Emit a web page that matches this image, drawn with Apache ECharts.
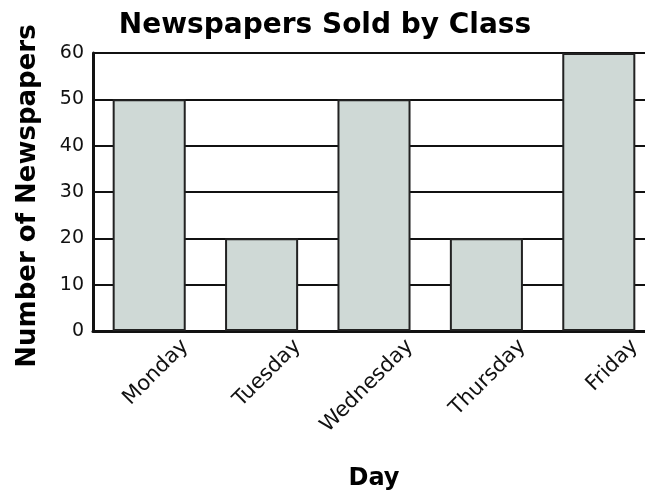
<!DOCTYPE html>
<html>
<head>
<meta charset="utf-8">
<script src="https://cdn.jsdelivr.net/npm/echarts@6/dist/echarts.min.js"></script>
<style>html,body{margin:0;padding:0;background:#fff;overflow:hidden}#c{width:700px;height:491px}</style>
</head>
<body>
<div id="c"></div>
<script>
const categories = ['Monday', 'Tuesday', 'Wednesday', 'Thursday', 'Friday'];
const newspapers = [50, 20, 50, 20, 60];
const yTicks = { min: 0, max: 60, interval: 10 };

const chart = echarts.init(document.getElementById('c'), null, { renderer: 'canvas' });
const font = 'DejaVu Sans';
chart.setOption({
  animation: false,
  backgroundColor: '#fff',
  title: {
    text: 'Newspapers Sold by Class',
    left: 320, top: 7, textAlign: 'center',
    textStyle: { fontFamily: font, fontWeight: 'bold', fontSize: 28, color: '#000' }
  },
  grid: [
    { left: 93, top: 53, width: 562, height: 278, containLabel: false, outerBoundsMode: 'none' },
    { left: 129, top: 53, width: 562, height: 278, containLabel: false, outerBoundsMode: 'none' }
  ],
  xAxis: [
    {
      type: 'category', data: categories, gridIndex: 0,
      name: 'Day', nameLocation: 'middle', nameGap: 136,
      nameTextStyle: { fontFamily: font, fontWeight: 'bold', fontSize: 24, color: '#000' },
      axisLine: { lineStyle: { color: '#111', width: 3 } },
      axisTick: { show: false },
      axisLabel: { show: false }
    },
    {
      type: 'category', data: categories, gridIndex: 1,
      axisLine: { show: false }, axisTick: { show: false },
      axisLabel: { rotate: 45, margin: 12, interval: 0, fontFamily: font, fontSize: 21, color: '#111' }
    }
  ],
  yAxis: [
    {
      type: 'value', gridIndex: 0, min: yTicks.min, max: yTicks.max, interval: yTicks.interval,
      name: 'Number of Newspapers', nameLocation: 'middle', nameGap: 52,
      nameTextStyle: { fontFamily: font, fontWeight: 'bold', fontSize: 26, color: '#000', padding: [0, 8, 0, 0] },
      axisLine: { show: true, lineStyle: { color: '#111', width: 3 } },
      axisTick: { show: false },
      axisLabel: { margin: 9, fontFamily: font, fontSize: 19, color: '#111' },
      splitLine: { show: true, lineStyle: { color: '#111', width: 2 } }
    },
    {
      type: 'value', gridIndex: 1, min: 0, max: 60, show: false
    }
  ],
  series: [{
    type: 'bar', data: newspapers, xAxisIndex: 0, yAxisIndex: 0,
    barWidth: '65%',
    itemStyle: { color: '#cfd9d6', borderColor: '#222', borderWidth: 2 }
  }]
});
</script>
</body>
</html>
